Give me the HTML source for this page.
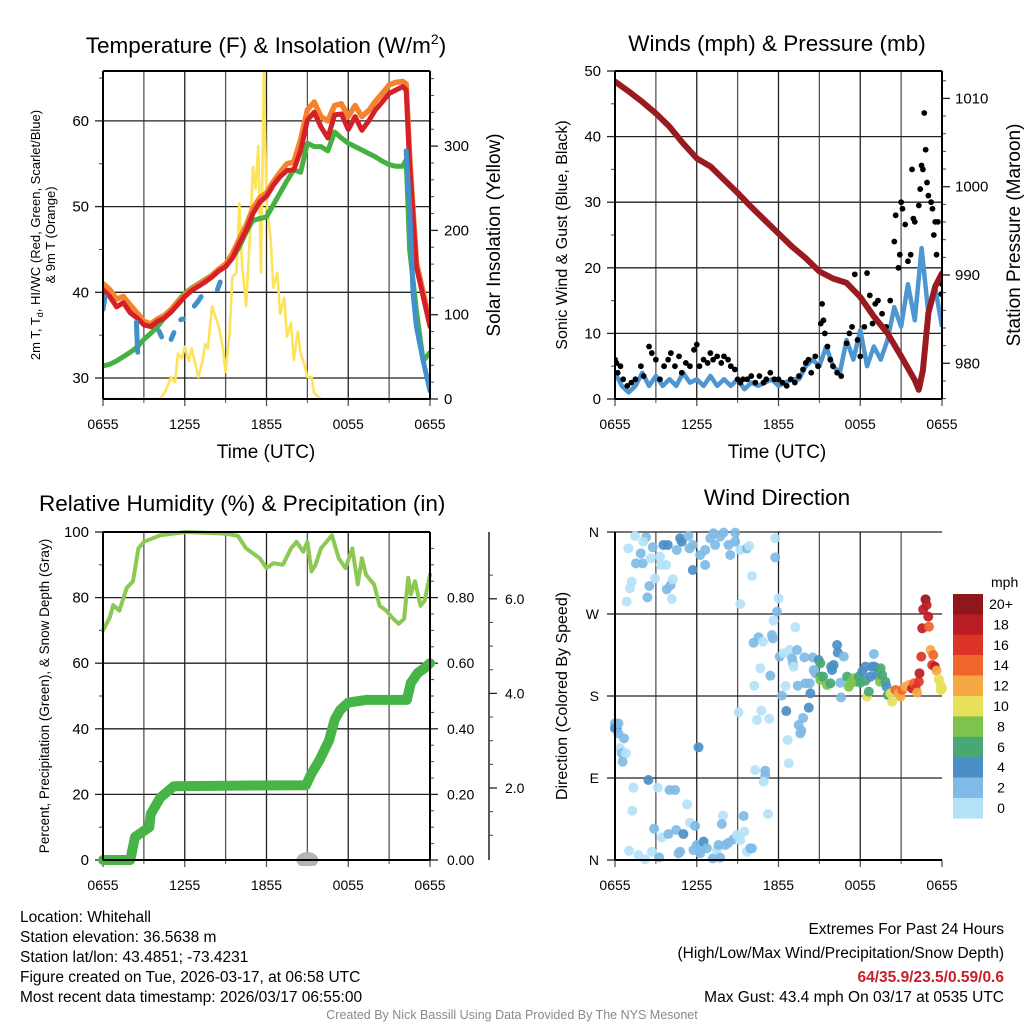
<!DOCTYPE html>
<html><head><meta charset="utf-8"><title>Whitehall Mesonet</title>
<style>
html,body{margin:0;padding:0;background:#fff;}
svg{display:block;font-family:"Liberation Sans",Arial,sans-serif;}
</style></head>
<body>
<svg id="fig" width="1024" height="1024" viewBox="0 0 1024 1024" xmlns="http://www.w3.org/2000/svg">
<rect x="0" y="0" width="1024" height="1024" fill="#fff"/>
<text x="266" y="53" font-size="22.5" text-anchor="middle">Temperature (F) &amp; Insolation (W/m<tspan font-size="14" dy="-9">2</tspan><tspan dy="9">)</tspan></text>
<text x="777" y="51" font-size="22.5" text-anchor="middle">Winds (mph) &amp; Pressure (mb)</text>
<text x="39" y="511" font-size="22.5">Relative Humidity (%) &amp; Precipitation (in)</text>
<text x="777" y="505" font-size="22.5" text-anchor="middle">Wind Direction</text>

<text x="266" y="458" font-size="19" text-anchor="middle">Time (UTC)</text>
<text x="777" y="458" font-size="19" text-anchor="middle">Time (UTC)</text>

<text transform="translate(40,235) rotate(-90)" font-size="13" text-anchor="middle">2m T, T<tspan font-size="9" dy="3">d</tspan><tspan dy="-3">, HI/WC (Red, Green, Scarlet/Blue)</tspan></text>
<text transform="translate(55,235) rotate(-90)" font-size="13" text-anchor="middle">&amp; 9m T (Orange)</text>
<text transform="translate(500,235) rotate(-90)" font-size="19" text-anchor="middle">Solar Insolation (Yellow)</text>
<text transform="translate(567,235) rotate(-90)" font-size="16" text-anchor="middle">Sonic Wind &amp; Gust (Blue, Black)</text>
<text transform="translate(1020,235) rotate(-90)" font-size="19" text-anchor="middle">Station Pressure (Maroon)</text>
<text transform="translate(49,696) rotate(-90)" font-size="13.5" text-anchor="middle">Percent, Precipitation (Green), &amp; Snow Depth (Gray)</text>
<text transform="translate(567,696) rotate(-90)" font-size="16" text-anchor="middle">Direction (Colored By Speed)</text>

<g font-size="15.5">
<text x="20" y="922">Location: Whitehall</text>
<text x="20" y="942">Station elevation: 36.5638 m</text>
<text x="20" y="962">Station lat/lon: 43.4851; -73.4231</text>
<text x="20" y="982">Figure created on Tue, 2026-03-17, at 06:58 UTC</text>
<text x="20" y="1002">Most recent data timestamp: 2026/03/17 06:55:00</text>
</g>
<g font-size="15.5" text-anchor="end">
<text x="1004" y="934">Extremes For Past 24 Hours</text>
<text x="1004" y="958">(High/Low/Max Wind/Precipitation/Snow Depth)</text>
<text x="1004" y="982" font-weight="bold" fill="#c8202a">64/35.9/23.5/0.59/0.6</text>
<text x="1004" y="1002">Max Gust: 43.4 mph On 03/17 at 0535 UTC</text>
</g>
<text x="512" y="1019" font-size="12.5" fill="#8a8a8a" text-anchor="middle">Created By Nick Bassill Using Data Provided By The NYS Mesonet</text>
</svg>
<script>
// ---------- DATA ----------
const tickLabels = ["0655","1255","1855","0055","0655"];
const tickHours = [0,6,12,18,24];
// Temperature panel
const tHours = [0,0.5,1,1.5,2,2.5,3,3.5,4,4.5,5,5.5,6,6.5,7,7.5,8,8.5,9,9.5,10,10.5,11,11.5,12,12.5,13,13.5,14,14.5,15,15.5,16,16.5,17,17.5,18,18.5,19,19.5,20,20.5,21,21.5,22,22.25,22.5,23,23.5,24];
const tempRed = [40.3,39.5,38.3,38.8,37.6,37.0,36.2,36.0,36.6,37.0,37.7,38.6,39.5,40.2,40.7,41.2,41.8,42.5,43.0,44.0,45.7,47.2,49.2,50.5,51.2,52.5,53.5,54.2,54.3,56.5,60.1,61.0,59.3,58.0,60.7,60.8,59.0,60.5,58.9,60.0,61.3,62.2,63.2,63.6,64.0,63.6,55,43.0,39.5,36.0];
const tempOrange = [41.0,40.3,39.2,39.5,38.5,37.6,36.6,36.3,36.9,37.3,38.0,38.9,39.7,40.4,40.9,41.4,42.0,42.7,43.3,44.5,46.2,47.8,49.8,51.0,51.6,52.9,54.0,55.0,55.2,57.8,61.3,62.2,60.5,60.0,61.8,62.0,60.5,61.8,60.5,61.2,62.3,63.2,64.2,64.5,64.6,64.3,56,43.5,40.0,36.5];
const dewGreen = [31.4,31.6,32.0,32.5,33.0,33.6,34.5,35.2,36.0,37.0,38.0,39.0,39.9,40.5,41.0,41.5,42.0,42.5,43.0,44.0,45.3,47.0,48.4,48.6,48.8,50.2,51.6,53.0,54.3,54.0,57.4,57.0,57.0,56.5,58.7,58.0,57.4,57.0,56.6,56.2,55.8,55.3,54.9,54.7,54.7,55.5,45,37.9,32.0,33.0];
const wcHours = [0,0.15,null,2.45,2.5,2.55,null,4.1,4.3,null,5.0,5.2,null,5.7,5.9,null,6.7,7.0,7.2,null,8.4,8.6,null,22.25,22.5,22.75,23,23.5,24];
const wcVals = [38.0,39.5,null,36.5,34.5,33.0,null,35.5,34.8,null,34.5,35.3,null,36.8,36.9,null,38.4,39.0,39.5,null,40.3,41.2,null,56.5,50,40,36,32,28.5];
const insHours = [0,4.2,4.6,5,5.3,5.5,5.8,6,6.3,6.5,7,7.3,7.5,7.7,8,8.3,8.5,8.8,9,9.3,9.5,9.8,10,10.2,10.5,10.8,11,11.2,11.4,11.6,11.8,12,12.3,12.5,12.8,13,13.3,13.5,13.8,14,14.3,14.5,14.8,15,15.3,15.5,16,24];
const insVals = [0,0,10,26,20,54,48,62,45,60,26,45,65,60,110,95,86,60,32,80,145,150,232,160,110,200,275,250,300,150,389,236,190,132,150,101,120,74,90,46,80,54,40,26,26,7,0,0];
// Winds panel
const presHours = [0,1,2,3,4,5,6,7,8,9,10,11,12,13,14,15,16,17,18,19,20,21,22,22.3,22.6,23,23.5,24];
const presVals = [1011.9,1010.8,1009.6,1008.3,1006.8,1004.9,1003.2,1002.3,1000.8,999.3,997.7,996.2,994.7,993.2,991.9,990.4,989.6,989.1,987.5,985.3,983.4,980.8,978.1,977.0,979.2,985.7,988.7,990.2];
const windHours = [0,0.5,1,1.5,2,2.5,3,3.5,4,4.5,5,5.5,6,6.5,7,7.5,8,8.5,9,9.5,10,10.5,11,11.5,12,12.5,13,13.5,14,14.5,15,15.5,16,16.5,17,17.5,18,18.5,19,19.5,20,20.5,21,21.5,22,22.5,23,23.5,24];
const windVals = [4,2,1,2,4,2,3.5,2,3,2,4,2.5,3,2,3.5,2,3,2,3,1.5,2.5,2,2.5,3,2,2.5,3,3,5,6,5,8,5,4,9,6,10.5,5,8,6,9,14,11,17.5,12,23,13,17,11];
const gustHours = [0,0.1,0.2,0.4,0.6,0.9,1.2,1.5,1.9,2.1,2.5,2.7,3,3.3,3.6,3.9,4.1,4.4,4.7,4.9,5.2,5.5,5.8,6,6.2,6.5,6.8,7,7.2,7.5,7.8,8,8.3,8.5,8.8,9,9.2,9.4,9.7,10,10.3,10.6,10.9,11.1,11.4,11.7,12,12.3,12.6,12.9,13.2,13.5,13.8,14,14.2,14.4,14.7,14.9,15.1,15.2,15.3,15.4,15.6,15.8,16,16.3,16.6,17,17.2,17.4,17.6,17.8,18,18.3,18.5,18.7,18.9,19.1,19.3,19.6,19.9,20.2,20.5,20.6,20.8,20.9,21,21.1,21.3,21.5,21.7,21.8,21.9,22,22.3,22.4,22.5,22.6,22.7,22.8,22.9,23,23.2,23.3,23.4,23.5,23.6,23.7,23.9,24,23.95];
const gustVals = [6,5.5,4,5,3,2,2.5,3,5,3.5,8,7,6,3,5,6,7,5,6.5,4,5.5,5,7.5,8.3,5,6,5.5,7,6,6.5,5.5,6.5,6,5,4.5,3,2.5,3,3,3.5,2.5,3.5,2.5,3,4,3,3,2.5,2,3,2.5,3.5,4.5,5.5,6,4,6.5,5,11.5,14.5,12,10,8,6,5,4,3.5,8.5,10,11,19,9,6.5,11,19.2,15.8,11.5,14.5,15,13,11,15,24,28,20,22,30,29,26.6,21,22,35,27.5,27,29.5,32,35.6,35,43.6,38,33,31,30,29,25,27,22,27,18.5,17.5,16];
// Humidity panel
const rhHours = [0,0.5,0.75,1.2,1.75,2.2,2.6,3,4.2,6.1,9,9.9,10.5,11.5,12,12.5,13.2,13.8,14.2,14.7,15,15.3,15.6,16,16.8,17.3,17.8,18.3,18.7,19,19.3,19.9,20.3,20.8,21.2,21.7,22.1,22.4,22.6,22.9,23.3,23.6,24];
const rhVals = [70,74,77.7,76,83,85,95,97,99,100,99.5,98.8,95,92,89,90.5,90,95,97,94,97,88,90,95,99,92,89,95,84,92,87,84,77.5,76,74,72,73.5,86,81,85,77.5,79,87];
const prHours = [0,2,2.35,3.4,3.5,4.2,5.2,8,11,14.9,15.3,15.9,16.6,17,17.4,18,19.3,22.3,22.6,23.1,23.6,24];
const prVals = [0,0,0.07,0.10,0.14,0.19,0.225,0.226,0.227,0.228,0.264,0.305,0.366,0.427,0.457,0.48,0.488,0.488,0.54,0.57,0.585,0.60];
const snowHours = [15];
const snowVals = [0];
// Wind direction panel
const dirHours = [1.47,2.28,0.98,2.08,2.77,1.89,1.54,2.03,2.62,3.31,3.36,3.75,3.55,3.87,4.78,4.90,5.39,4.53,5.47,5.71,6.25,6.62,6.62,5.71,6.99,7.23,7.72,7.97,7.35,8.33,8.46,8.82,8.82,9.19,9.68,9.85,10.05,11.76,11.76,1.23,1.10,0.86,2.52,2.38,2.94,3.80,4.09,4.24,4.17,9.19,12.01,11.89,
11.64,13.24,10.54,10.17,10.86,11.52,11.59,12.08,12.38,12.82,13.36,12.99,13.06,13.11,13.90,14.51,14.95,15.07,14.58,14.71,15.07,13.97,14.29,13.41,12.52,11.40,10.66,10.22,12.25,14.34,14.22,12.57,13.80,13.48,13.68,13.60,12.67,12.75,10.74,10.42,11.32,9.07,10.29,11.03,11.03,10.91,11.23,
15.07,15.27,15.56,15.81,15.86,16.05,15.93,16.30,16.35,16.79,16.54,16.59,17.03,17.16,17.28,17.52,17.65,17.89,18.01,18.14,18.38,18.38,18.75,18.87,19.00,19.04,19.24,19.49,19.44,19.61,19.85,19.93,18.50,18.63,20.02,20.34,20.22,20.59,20.83,20.96,21.08,21.32,21.57,21.81,21.94,22.06,22.18,22.30,22.35,22.48,22.55,22.62,22.79,22.87,22.99,23.04,23.16,23.36,23.28,23.48,23.60,23.77,23.90,24.0,23.90,
0,0.12,0,0.25,0.25,0.66,0.37,0.49,0.81,0.56,6.13,
2.45,1.35,3.14,4.00,4.41,1.27,2.87,3.43,3.92,4.49,5.02,5.29,5.51,5.88,1.03,1.72,2.21,2.70,3.24,4.66,4.78,5.76,6.00,6.25,6.50,6.74,6.25,7.18,7.48,7.60,7.72,7.92,7.84,8.09,8.33,8.70,8.95,9.44,9.49,9.19,9.68,9.93,10.05];
const dirDeg = [355.6,354.2,342.1,349.4,343.2,336.6,325.6,325.6,331.1,333.0,323.8,323.8,345.8,345.8,353.1,349.4,355.6,340.3,342.1,345.8,334.8,340.3,323.8,318.3,353.1,358.6,354.9,359.3,345.8,345.8,334.8,359.3,349.4,340.3,342.1,344.7,311.7,353.1,332.2,305.5,298.2,283.6,300.8,288.3,309.2,297.1,301.8,308.1,286.5,281.0,287.2,272.6,
262.7,255.4,244.4,238.5,239.6,246.9,243.3,223.2,226.8,230.5,230.5,221.3,215.9,212.2,222.4,222.4,219.5,215.9,208.5,204.9,201.2,193.9,193.9,191.3,191.0,202.3,210.4,191.3,180.4,182.9,167.2,163.5,155.9,148.2,141.9,139.0,131.7,106.1,163.9,153.7,155.1,162.1,98.8,98.0,93.3,86.0,50.5,
197.6,201.2,192.1,193.9,212.2,214.0,208.5,236.0,227.6,223.2,194.6,178.5,201.2,190.2,193.9,199.4,195.7,201.2,194.6,206.7,212.2,196.8,201.2,212.2,226.1,212.2,203.1,210.4,195.7,203.1,195.7,190.2,179.3,184.8,181.1,173.8,182.9,186.6,182.9,179.3,186.6,190.2,192.1,188.4,193.9,188.4,183.7,195.7,204.9,223.2,254.3,275.1,286.1,279.9,267.1,256.1,230.5,225.0,214.0,212.2,207.8,198.3,192.1,188.4,186.6,
150.0,144.5,144.5,150.0,139.0,133.5,122.6,117.1,117.1,107.9,123.7,
87.8,79.4,79.4,76.8,76.8,54.1,34.4,24.9,28.5,32.9,28.5,61.1,40.9,37.3,10.2,5.5,0.7,9.1,2.9,7.3,9.1,10.9,16.4,10.9,20.1,12.8,7.3,1.8,10.9,16.4,2.5,48.6,39.5,16.4,19.0,22.7,27.4,48.3,31.1,21.9,9.1,12.8,12.8];
const dirSpeed = [1,3,1,1,3,3,3,3,1,1,1,1,5,5,5,5,3,3,3,3,3,3,3,5,3,3,3,3,3,3,3,3,3,1,3,1,1,1,3,1,1,1,3,3,1,3,3,1,1,1,1,3,
1,1,3,3,1,3,3,3,1,1,3,3,3,1,3,3,5,7,3,3,7,3,3,3,1,3,1,1,3,5,5,5,3,3,3,3,1,1,1,1,1,1,1,3,3,1,1,
9,7,9,7,5,5,5,5,5,3,3,3,7,9,9,9,9,7,7,5,5,7,5,5,3,5,5,7,9,7,7,5,11,7,7,11,11,15,13,13,15,13,13,19,15,17,13,17,19,17,19,19,21,19,19,15,13,15,17,19,13,11,11,11,11,
3,5,5,3,3,3,1,3,1,3,5,
5,1,1,3,3,1,3,1,3,3,5,1,1,3,1,1,1,1,3,3,3,3,3,3,5,3,3,3,1,3,3,1,3,3,3,3,1,3,1,1,1,3,3];
const cbarLabels = ["20+","18","16","14","12","10","8","6","4","2","0"];
const cbarColors = ["#8f161b","#bb1d24","#dc3428","#f0652c","#f6a845","#e6e05a","#7ec34c","#48a873","#4a8fc7","#7fbbe6","#b5e2f8"];

// ---------- HELPERS ----------
const NS = "http://www.w3.org/2000/svg";
const svg = document.getElementById("fig");
function mk(tag, attrs, parent){
  const e = document.createElementNS(NS, tag);
  for (const k in attrs) e.setAttribute(k, attrs[k]);
  (parent||svg).appendChild(e);
  return e;
}
function pathD(hs, vs, sx, sy){
  let d = "", pen = false;
  for (let i=0;i<hs.length;i++){
    if (hs[i]===null || vs[i]===null){ pen=false; continue; }
    d += (pen?"L":"M") + sx(hs[i]).toFixed(1) + "," + sy(vs[i]).toFixed(1);
    pen = true;
  }
  return d;
}
function speedColor(s){
  let idx = Math.floor(s/2); if (idx>10) idx=10;
  return cbarColors[10-idx];
}

// ---------- PANEL FRAMEWORK ----------
function panel(p){
  const g = mk("g", {});
  
  
  // vertical grid every 3h
  for (let h=3; h<24; h+=3){
    const ln = mk("line", {x1:p.x(h), x2:p.x(h), y1:p.top, y2:p.bot, stroke:(h%6===0)?"#222":"#555", "stroke-width":1.3}, g);
    
    
  }
  p.hgrid.forEach(y=>{
    const ln = mk("line", {x1:p.l, x2:p.r, y1:y, y2:y, stroke:"#222", "stroke-width":1.3}, g);
    
    
  });
  // x ticks
  tickHours.forEach((h,i)=>{
    const tk = mk("line", {x1:p.x(h), x2:p.x(h), y1:p.bot, y2:p.bot+7, stroke:"#555", "stroke-width":1.3}, g);
    
    
    const tx = mk("text", {x:p.x(h), y:p.bot+30, "font-size":14, "text-anchor":"middle"}, g);
    tx.textContent = tickLabels[i];
    
    
  });
  for (let h=3; h<24; h+=6){
    const tk = mk("line", {x1:p.x(h), x2:p.x(h), y1:p.bot, y2:p.bot+4, stroke:"#555", "stroke-width":1}, g);
    
    
  }
  return g;
}
function yAxis(g, x, dir, ticks, minor, sy, labels, fs, anchorOff){
  ticks.forEach((v,i)=>{
    const y = sy(v);
    const tk = mk("line", {x1:x, x2:x+dir*8, y1:y, y2:y, stroke:"#222", "stroke-width":1.3}, g);
    
    
    const tx = mk("text", {x:x+dir*anchorOff, y:y+5, "font-size":fs, "text-anchor":dir<0?"end":"start"}, g);
    tx.textContent = labels[i];
    
    
  });
  minor.forEach(v=>{
    const y = sy(v);
    const tk = mk("line", {x1:x, x2:x+dir*4, y1:y, y2:y, stroke:"#444", "stroke-width":1}, g);
    
    
  });
}
function frame(g, p, sides){
  sides.forEach(s=>{
    let a;
    if (s==="l") a={x1:p.l,x2:p.l,y1:p.top,y2:p.bot};
    if (s==="r") a={x1:p.r,x2:p.r,y1:p.top,y2:p.bot};
    if (s==="t") a={x1:p.l,x2:p.r,y1:p.top,y2:p.top};
    if (s==="b") a={x1:p.l,x2:p.r,y1:p.bot,y2:p.bot};
    a.stroke="#000"; a["stroke-width"]=2;
    const ln = mk("line", a, g);
    
    
  });
}
function range(a,b,s){ const r=[]; for(let v=a; v<=b+1e-9; v+=s) r.push(+v.toFixed(4)); return r; }

// ---------- PANEL 1: TEMPERATURE ----------
(function(){
  const p = {name:"temperature-panel", l:103, r:430, top:71, bot:399};
  p.x = h => p.l + h*(p.r-p.l)/24;
  const yT = t => 378 - (t-30)*8.57;
  const yI = v => 399 - v*0.843;
  p.hgrid = [30,40,50,60].map(yT);
  const g = panel(p);
  yAxis(g, p.l, -1, [30,40,50,60], [35,45,55,65], yT, ["30","40","50","60"], 15, 14);
  yAxis(g, p.r, 1, [0,100,200,300], range(20,380,20).filter(v=>v%100!==0), yI, ["0","100","200","300"], 15, 14);
  const clip = mk("clipPath", {id:"c1"}, g);
  mk("rect", {x:p.l, y:p.top, width:p.r-p.l, height:p.bot-p.top}, clip);
  const pg = mk("g", {"clip-path":"url(#c1)"}, g);
  const ins = mk("path", {d:pathD(insHours, insVals, p.x, yI), fill:"none", stroke:"#fde35a", "stroke-width":2.6, "stroke-linejoin":"round"}, pg);
  
  
  const dp = mk("path", {d:pathD(tHours, dewGreen, p.x, yT), fill:"none", stroke:"#46b042", "stroke-width":5, "stroke-linejoin":"round", "stroke-linecap":"round"}, pg);
  
  
  const or = mk("path", {d:pathD(tHours, tempOrange, p.x, yT), fill:"none", stroke:"#f5832e", "stroke-width":5.5, "stroke-linejoin":"round", "stroke-linecap":"round"}, pg);
  
  
  const rd = mk("path", {d:pathD(tHours, tempRed, p.x, yT), fill:"none", stroke:"#d52027", "stroke-width":5, "stroke-linejoin":"round", "stroke-linecap":"round"}, pg);
  
  
  const wc = mk("path", {d:pathD(wcHours, wcVals, p.x, yT), fill:"none", stroke:"#4190cc", "stroke-width":5, "stroke-linejoin":"round", "stroke-linecap":"round"}, pg);
  
  
  frame(g, p, ["l","r","t","b"]);
})();

// ---------- PANEL 2: WINDS ----------
(function(){
  const p = {name:"winds-panel", l:615, r:942, top:71, bot:399};
  p.x = h => p.l + h*(p.r-p.l)/24;
  const yW = w => 399 - w*6.56;
  const yP = v => 275 - (v-990)*8.83;
  p.hgrid = [10,20,30,40].map(yW);
  const g = panel(p);
  yAxis(g, p.l, -1, [0,10,20,30,40,50], [5,15,25,35,45], yW, ["0","10","20","30","40","50"], 15, 14);
  yAxis(g, p.r, 1, [980,990,1000,1010], range(976,1012,2).filter(v=>v%10!==0), yP, ["980","990","1000","1010"], 15, 13);
  const clip = mk("clipPath", {id:"c2"}, g);
  mk("rect", {x:p.l, y:p.top, width:p.r-p.l, height:p.bot-p.top}, clip);
  const pg = mk("g", {"clip-path":"url(#c2)"}, g);
  const wl = mk("path", {d:pathD(windHours, windVals, p.x, yW), fill:"none", stroke:"#4d96d2", "stroke-width":4.5, "stroke-linejoin":"round"}, pg);
  
  
  gustHours.forEach((h,i)=>{
    const c = mk("circle", {cx:p.x(h), cy:yW(gustVals[i]), r:2.9, fill:"#000"}, pg);
    
    
  });
  const pl = mk("path", {d:pathD(presHours, presVals, p.x, yP), fill:"none", stroke:"#9a1b1f", "stroke-width":6, "stroke-linejoin":"round", "stroke-linecap":"round"}, pg);
  
  
  frame(g, p, ["l","r","t","b"]);
})();

// ---------- PANEL 3: HUMIDITY ----------
(function(){
  const p = {name:"humidity-panel", l:103, r:430, top:532, bot:860};
  p.x = h => p.l + h*(p.r-p.l)/24;
  const yRH = v => 860 - v*3.28;
  const yPr = v => 860 - v*328;
  const ySn = v => 882.6 - v*47.3;
  p.hgrid = [20,40,60,80,100].map(yRH);
  const g = panel(p);
  yAxis(g, p.l, -1, [0,20,40,60,80,100], [10,30,50,70,90], yRH, ["0","20","40","60","80","100"], 15, 14);
  yAxis(g, p.r, 1, [0,0.2,0.4,0.6,0.8], range(0.05,0.95,0.05).filter(v=>Math.round(v*100)%20!==0), yPr, ["0.00","0.20","0.40","0.60","0.80"], 14, 17);
  // snow depth axis
  const ax = mk("line", {x1:489, x2:489, y1:532, y2:860, stroke:"#222", "stroke-width":1.5}, g);
  
  
  yAxis(g, 489, 1, [2,4,6], [1,1.5,2.5,3,3.5,4.5,5,5.5,6.5], ySn, ["2.0","4.0","6.0"], 14, 16);
  const clip = mk("clipPath", {id:"c3"}, g);
  mk("rect", {x:p.l-8, y:p.top-4, width:p.r-p.l+14, height:p.bot-p.top+10}, clip);
  const pg = mk("g", {"clip-path":"url(#c3)"}, g);
  snowHours.forEach((h,i)=>{
    const e = mk("ellipse", {cx:p.x(h), cy:ySn(snowVals[i])-22.6, rx:11, ry:8, fill:"#b5b5b5"}, pg);
    
    
  });
  const rh = mk("path", {d:pathD(rhHours, rhVals, p.x, yRH), fill:"none", stroke:"#8cc952", "stroke-width":4, "stroke-linejoin":"round", "stroke-linecap":"round"}, pg);
  
  
  const pr = mk("path", {d:pathD(prHours, prVals, p.x, yPr), fill:"none", stroke:"#46b446", "stroke-width":10, "stroke-linejoin":"round", "stroke-linecap":"round"}, pg);
  
  
  frame(g, p, ["l","r","t","b"]);
})();

// ---------- PANEL 4: WIND DIRECTION ----------
(function(){
  const p = {name:"wind-direction-panel", l:615, r:942, top:532, bot:860};
  p.x = h => p.l + h*(p.r-p.l)/24;
  const yD = d => 860 - d*0.9111;
  p.hgrid = [90,180,270,360].map(yD);
  const g = panel(p);
  yAxis(g, p.l, -1, [0,90,180,270,360], [], yD, ["N","E","S","W","N"], 14, 16);
  const clip = mk("clipPath", {id:"c4"}, g);
  mk("rect", {x:p.l-6, y:p.top-6, width:p.r-p.l+12, height:p.bot-p.top+12}, clip);
  const pg = mk("g", {"clip-path":"url(#c4)"}, g);
  dirHours.forEach((h,i)=>{
    const c = mk("circle", {cx:p.x(h), cy:yD(dirDeg[i]), r:5, fill:speedColor(dirSpeed[i]), "fill-opacity":0.92}, pg);
    
    
  });
  frame(g, p, ["l","b"]);
  // colorbar
  const cb = mk("g", {});
  
  
  const t = mk("text", {x:991, y:587, "font-size":14}, cb);
  t.textContent = "mph";
  
  
  cbarColors.forEach((c,i)=>{
    const r = mk("rect", {x:953, y:594+i*20.4, width:30, height:20.6, fill:c}, cb);
    
    
    const tx = mk("text", {x:1001, y:594+i*20.4+15, "font-size":14, "text-anchor":"middle"}, cb);
    tx.textContent = cbarLabels[i];
    
    
  });
})();
</script>
</body></html>
